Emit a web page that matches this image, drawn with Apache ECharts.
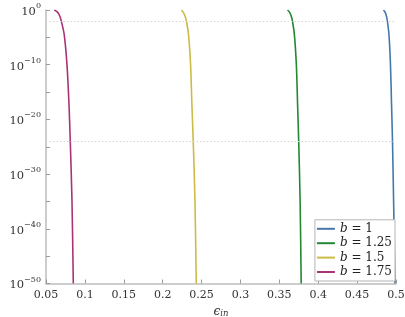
<!DOCTYPE html>
<html><head><meta charset="utf-8">
<script src="https://cdn.jsdelivr.net/npm/echarts@6/dist/echarts.min.js"></script>
<style>html,body{margin:0;padding:0;background:#fff}#c{width:405px;height:317px}</style>
</head><body><div id="c"></div>
<script>
// log10(beta) levels at which values were read (y axis is logarithmic: 10^0 ... 10^-50)
const logBeta = [0, -0.35, -0.92, -1.83, -4.58, -10.07, -17.4, -24, -34.8, -50];
// epsilon_in values for each series at those levels
const eps_b1    = [0.4839, 0.4857, 0.4873, 0.4887, 0.4910, 0.4929, 0.4943, 0.4955, 0.4969, 0.4987];
const eps_b125  = [0.3605, 0.3629, 0.3648, 0.3666, 0.3694, 0.3719, 0.3735, 0.3749, 0.3767, 0.3781];
const eps_b15   = [0.2239, 0.2261, 0.2282, 0.2303, 0.2333, 0.2359, 0.2376, 0.2393, 0.2415, 0.2432];
const eps_b175  = [0.0607, 0.0645, 0.0671, 0.0693, 0.0735, 0.0770, 0.0796, 0.0812, 0.0834, 0.0851];
const seriesNames = ['b = 1', 'b = 1.25', 'b = 1.5', 'b = 1.75'];
const xTicks = [0.05, 0.1, 0.15, 0.2, 0.25, 0.3, 0.35, 0.4, 0.45, 0.5];
const yTickExponents = [0, -10, -20, -30, -40, -50];
const gridLinesLog = [-2, -24];

const colors = ['#4477AA', '#228833', '#CCBB44', '#AA3377'];
const epsList = [eps_b1, eps_b125, eps_b15, eps_b175];
const serif = '"DejaVu Serif", "Liberation Serif", serif';

const series = epsList.map((e, i) => ({
  name: seriesNames[i],
  type: 'line',
  smooth: 0.3,
  showSymbol: false,
  symbol: 'none',
  lineStyle: { color: colors[i], width: 1.6 },
  itemStyle: { color: colors[i] },
  data: e.map((x, k) => [x, logBeta[k]]),
  markLine: i === 0 ? {
    silent: true, symbol: 'none', label: { show: false },
    lineStyle: { color: '#d6d6d6', type: [1.5, 2], width: 1 },
    data: gridLinesLog.map(v => ({ yAxis: v }))
  } : undefined
}));

const chart = echarts.init(document.getElementById('c'), null, { renderer: 'canvas' });
chart.setOption({
  animation: false,
  backgroundColor: '#fff',
  grid: { left: 46, right: 9, top: 10, bottom: 33.5, outerBoundsMode: 'none', containLabel: false },
  xAxis: {
    type: 'value', min: 0.05, max: 0.5, interval: 0.05,
    axisLine: { show: true, onZero: false, lineStyle: { color: '#bdbdbd', width: 1.5 } },
    axisTick: { show: true, inside: true, length: 4, lineStyle: { color: '#9a9a9a' } },
    splitLine: { show: false },
    axisLabel: { color: '#333', fontFamily: serif, fontSize: 11, margin: 6,
      formatter: v => String(+v.toFixed(2)) },
    name: '{e|ϵ}{s|in}',
    nameLocation: 'middle', nameGap: 12,
    nameTextStyle: { verticalAlign: 'top', rich: {
      e: { fontFamily: serif, fontStyle: 'italic', fontSize: 12, color: '#333', lineHeight: 14, verticalAlign: 'middle' },
      s: { fontFamily: serif, fontStyle: 'italic', fontSize: 8.5, color: '#333', lineHeight: 8, verticalAlign: 'bottom' }
    } }
  },
  yAxis: {
    type: 'value', min: -50, max: 0, interval: 5,
    axisLine: { show: true, onZero: false, lineStyle: { color: '#bdbdbd', width: 1.5 } },
    axisTick: { show: true, inside: true, length: 4, lineStyle: { color: '#9a9a9a' } },
    splitLine: { show: false },
    axisLabel: {
      margin: 5,
      formatter: v => {
        const ex = Math.round(v);
        if (yTickExponents.indexOf(ex) < 0) return '';
        const s = ex === 0 ? '0' : '−' + Math.abs(ex);
        return '{b|10}{s|' + s + '}';
      },
      rich: {
        b: { fontFamily: serif, fontSize: 11.5, color: '#333', lineHeight: 16, verticalAlign: 'bottom' },
        s: { fontFamily: serif, fontSize: 8, color: '#333', lineHeight: 9, verticalAlign: 'top' }
      }
    },
    name: 'β',
    nameLocation: 'middle', nameGap: 35, nameRotate: 90,
    nameTextStyle: { fontFamily: serif, fontStyle: 'italic', fontSize: 13, color: '#333' }
  },
  legend: {
    orient: 'vertical', right: 10, bottom: 36,
    backgroundColor: '#fff', borderColor: '#b5b5b5', borderWidth: 1,
    padding: [3, 3, 3, 2], itemGap: 2.4,
    itemWidth: 18, itemHeight: 2, icon: 'rect',
    data: seriesNames.map((n, i) => ({ name: n, itemStyle: { color: colors[i] } })),
    formatter: n => '{i|b}{t|' + n.slice(1) + '}',
    textStyle: { rich: {
      i: { fontFamily: serif, fontStyle: 'italic', fontSize: 12, color: '#222', lineHeight: 12 },
      t: { fontFamily: serif, fontSize: 12, color: '#222', lineHeight: 12 }
    } }
  },
  series: series
});
</script></body></html>
